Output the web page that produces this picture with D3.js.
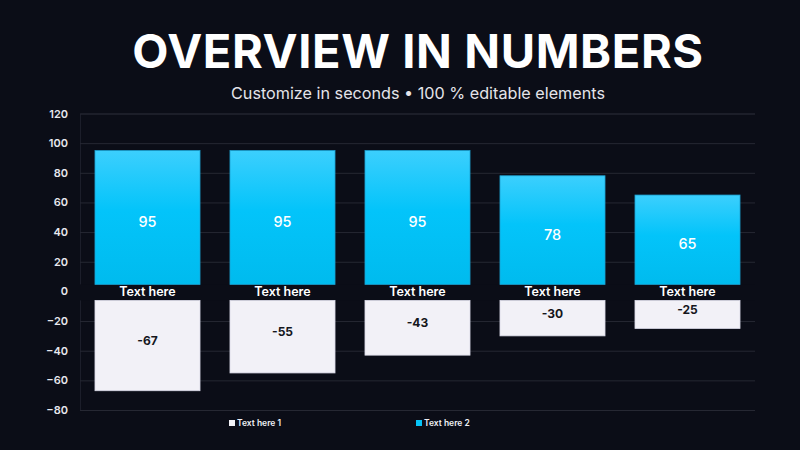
<!DOCTYPE html>
<html>
<head>
<meta charset="utf-8">
<script src="https://cdn.jsdelivr.net/npm/d3@7"></script>
<style>
  body { margin: 0; background: #0b0d17; }
  svg { display: block; font-family: Inter, "Noto Sans", sans-serif; }
</style>
</head>
<body>
<div id="chart"></div>
<script>
// chart data
const categories = ["Text here", "Text here", "Text here", "Text here", "Text here"];
const series2 = [95, 95, 95, 78, 65];      // "Text here 2" (blue, positive)
const series1 = [-67, -55, -43, -30, -25]; // "Text here 1" (white, negative)
const yTicks = [120, 100, 80, 60, 40, 20, 0, -20, -40, -60, -80];
const legendNames = ["Text here 1", "Text here 2"];

const width = 800;
const height = 450;
const plotLeft = 80, plotRight = 755, plotTop = 113.5, plotBottom = 410;

const svg = d3.select("#chart")
  .append("svg")
  .attr("width", width)
  .attr("height", height);

svg.append("rect")
  .attr("width", width)
  .attr("height", height)
  .attr("fill", "#0b0d17");

// title
svg.append("text")
  .attr("x", 418)
  .attr("y", 68)
  .attr("text-anchor", "middle")
  .attr("fill", "#ffffff")
  .attr("font-size", 47)
  .attr("font-weight", 700)
  .attr("letter-spacing", 0.6)
  .text("OVERVIEW IN NUMBERS");

svg.append("text")
  .attr("x", 418)
  .attr("y", 99)
  .attr("text-anchor", "middle")
  .attr("fill", "#e4e4ea")
  .attr("font-size", 16.2)
  .text("Customize in seconds \u2022 100 % editable elements");

const x = d3.scaleBand()
  .domain(d3.range(categories.length))
  .range([plotLeft, plotRight])
  .paddingInner(0.222)
  .paddingOuter(0.111);

const y = d3.scaleLinear()
  .domain([-80, 120])
  .range([plotBottom, plotTop]);

// gradient for the blue bars
const defs = svg.append("defs");
const grad = defs.append("linearGradient")
  .attr("id", "blueGrad")
  .attr("x1", 0).attr("y1", 0)
  .attr("x2", 0).attr("y2", 1);
grad.append("stop").attr("offset", "0%").attr("stop-color", "#3ccffd");
grad.append("stop").attr("offset", "45%").attr("stop-color", "#03c4fa");
grad.append("stop").attr("offset", "100%").attr("stop-color", "#00bbee");

// axis + gridlines
const yAxis = d3.axisLeft(y)
  .tickValues(yTicks)
  .tickSize(-(plotRight - plotLeft))
  .tickPadding(12)
  .tickFormat(d3.format("d"));

const axisG = svg.append("g")
  .attr("transform", `translate(${plotLeft},0)`)
  .call(yAxis);

axisG.select(".domain").attr("stroke", "#1c1e2a");
axisG.selectAll(".tick line").attr("stroke", "#262833").attr("stroke-width", 1);
axisG.selectAll(".tick text")
  .attr("fill", "#e8e8ee")
  .attr("font-size", 11)
  .attr("font-weight", 600)
  .attr("font-family", "Inter, sans-serif");

const zeroY = y(0);
const gapAbove = 7;
const gapBelow = 9;

// band behind the category labels
svg.append("rect")
  .attr("x", plotLeft)
  .attr("y", zeroY - gapAbove)
  .attr("width", plotRight - plotLeft)
  .attr("height", gapAbove + gapBelow)
  .attr("fill", "#0b0d17");

// positive bars
svg.selectAll(".bar2")
  .data(series2)
  .enter()
  .append("rect")
  .attr("class", "bar2")
  .attr("x", (d, i) => x(i))
  .attr("y", d => y(d))
  .attr("width", x.bandwidth())
  .attr("height", d => zeroY - gapAbove - y(d))
  .attr("fill", "url(#blueGrad)")
  .attr("stroke", "#1b9fcf")
  .attr("stroke-width", 0.8);

// negative bars
svg.selectAll(".bar1")
  .data(series1)
  .enter()
  .append("rect")
  .attr("class", "bar1")
  .attr("x", (d, i) => x(i))
  .attr("y", zeroY + gapBelow)
  .attr("width", x.bandwidth())
  .attr("height", d => y(d) - zeroY - gapBelow)
  .attr("fill", "#f2f1f7")
  .attr("stroke", "#d9d9e6")
  .attr("stroke-width", 0.8);

// value labels
svg.selectAll(".val2")
  .data(series2)
  .enter()
  .append("text")
  .attr("x", (d, i) => x(i) + x.bandwidth() / 2)
  .attr("y", d => (y(d) + zeroY) / 2 + 1)
  .attr("dy", "0.35em")
  .attr("text-anchor", "middle")
  .attr("fill", "#ffffff")
  .attr("font-size", 14.5)
  .attr("font-weight", 500)
  .text(d => d);

svg.selectAll(".val1")
  .data(series1)
  .enter()
  .append("text")
  .attr("x", (d, i) => x(i) + x.bandwidth() / 2)
  .attr("y", d => (y(d) + zeroY) / 2)
  .attr("dy", "0.35em")
  .attr("text-anchor", "middle")
  .attr("fill", "#15161c")
  .attr("font-size", 12)
  .attr("font-weight", 700)
  .text(d => d);

// category labels
svg.selectAll(".cat")
  .data(categories)
  .enter()
  .append("text")
  .attr("x", (d, i) => x(i) + x.bandwidth() / 2)
  .attr("y", zeroY)
  .attr("dy", "0.35em")
  .attr("text-anchor", "middle")
  .attr("fill", "#ffffff")
  .attr("font-size", 12.5)
  .attr("font-weight", 600)
  .text(d => d);

// legend
const legendColors = ["#f2f1f7", "#06c3f7"];
const legendX = d3.scalePoint()
  .domain(legendNames)
  .range([229, 416]);

const legend = svg.selectAll(".legend")
  .data(legendNames)
  .enter()
  .append("g")
  .attr("transform", d => `translate(${legendX(d)},423)`);

legend.append("rect")
  .attr("x", 0)
  .attr("y", -3)
  .attr("width", 6)
  .attr("height", 6)
  .attr("fill", (d, i) => legendColors[i]);

legend.append("text")
  .attr("x", 8)
  .attr("dy", "0.35em")
  .attr("fill", "#f0f0f5")
  .attr("font-size", 8.5)
  .attr("font-weight", 600)
  .text(d => d);
</script>
</body>
</html>
